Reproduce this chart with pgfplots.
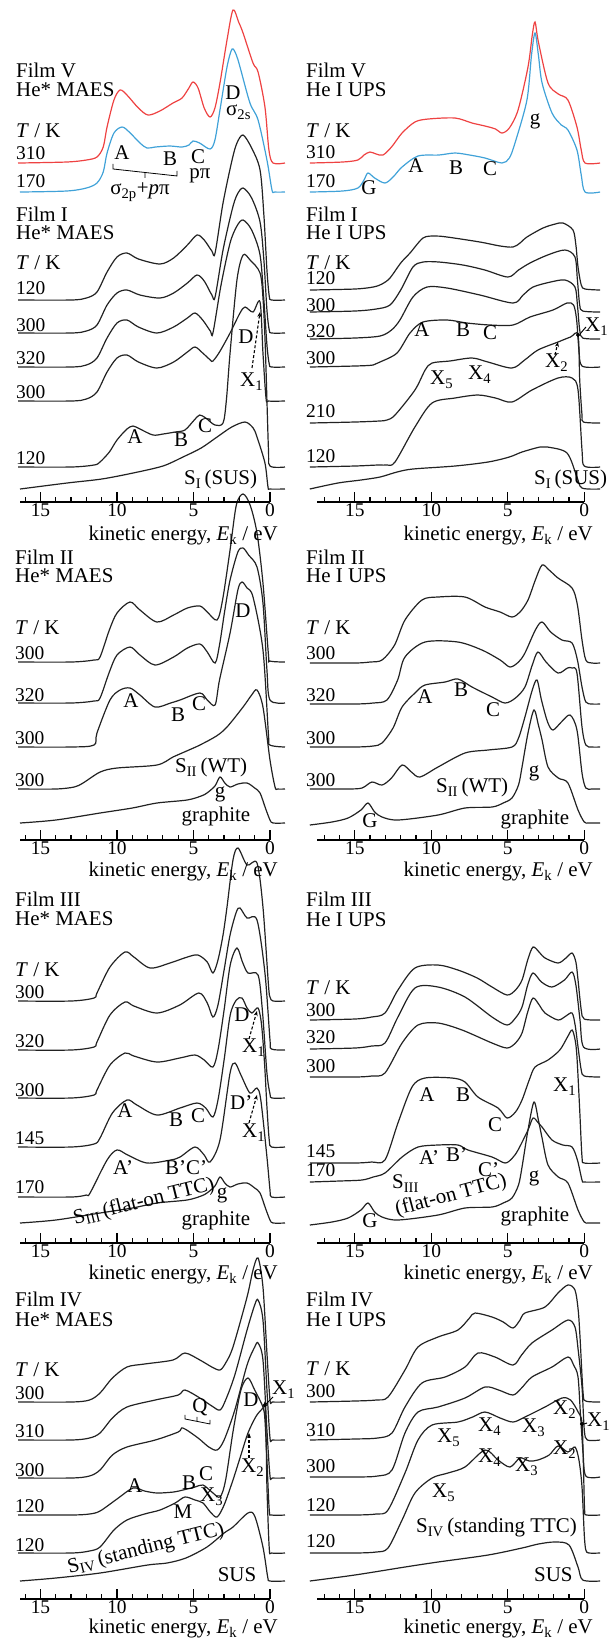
\documentclass[border=0pt]{standalone}
\usepackage{fontspec}
\setmainfont{Liberation Serif}
\usepackage{pgfplots}
\pgfplotsset{compat=1.18}
\usetikzlibrary{arrows.meta}
\definecolor{vred}{RGB}{238,66,66}
\definecolor{vblue}{RGB}{64,162,216}
\definecolor{crv}{RGB}{34,34,34}
\newcommand\lab{\fontsize{21}{23}\selectfont}
\newcommand\num{\fontsize{19.5}{21}\selectfont}
\newcommand\sub[1]{\textsubscript{#1}}
\newcommand\ek{kinetic energy, \textit{E}\sub{k} / eV}

\pgfplotsset{
  spc/.style={no markers, smooth, line width=1.2bp, color=crv},
  dot/.style={only marks, mark=*, mark size=1.8bp, black},
  bigL/.style={scale only axis, width=250bp, height=1643bp, xmin=0, xmax=16.34,
    x dir=reverse, ymin=0, ymax=1643, y dir=reverse, hide axis, clip=false,
    anchor=south west, at={(20bp,0bp)}},
  bigR/.style={bigL, width=267.3bp, xmax=17.47, at={(317bp,0bp)}},
  xax/.style={scale only axis, height=20bp, x dir=reverse, xmin=0, ymin=0, ymax=1,
    axis x line=bottom, axis y line=none, anchor=south west,
    axis line style={-, line width=1.6bp},
    xtick={0,5,10,15}, xtick align=inside,
    major tick length=10bp, minor tick length=5bp,
    every tick/.style={black, line width=1.2bp},
    xticklabel style={font=\num, inner sep=1.5bp},
    /pgf/number format/assume math mode=true},
  xaxL/.style={xax, width=250bp, xmax=16.34,
    minor xtick={1,2,3,4,6,7,8,9,11,12,13,14,16}},
  xaxR/.style={xax, width=267.3bp, xmax=17.47,
    minor xtick={1,2,3,4,6,7,8,9,11,12,13,14,16,17}},
}

\begin{document}
\begin{tikzpicture}
\useasboundingbox (0,0) rectangle (609bp,1643bp);

% ---------------- left column: He* MAES ----------------
\begin{axis}[bigL]
% Film V
\addplot[spc, vred] coordinates {(16.47,163) (13.3,162) (12.0,160) (11.31,157) (10.9,147) (10.65,127) (10.2,100) (9.8,90) (9.35,95) (8.6,108) (7.97,115) (7.2,111) (6.34,103) (5.75,98) (5.3,88) (5.03,82) (4.7,88) (4.3,108) (3.92,117) (3.6,108) (3.27,83) (2.81,40) (2.42,10) (2.05,22) (1.76,33) (1.11,63) (0.78,72) (0.33,107) (0.07,150) (-0.2,163) (-0.98,163)};
\addplot[spc, vblue] coordinates {(16.34,192) (13.3,191) (12.0,188) (11.31,183) (10.9,172) (10.65,153) (10.2,133) (9.67,127) (9.2,132) (8.5,143) (8.04,148) (7.5,147) (6.54,146) (5.75,147) (5.3,145) (5.03,141) (4.6,143) (3.92,149) (3.6,140) (3.27,110) (2.81,67) (2.48,49) (2.2,55) (1.96,67) (1.31,103) (0.78,120) (0.2,160) (-0.13,190) (-0.3,192) (-0.98,192)};
% Film I
\addplot[spc] coordinates {(16.47,300) (13,300) (12.0,298) (11.31,292) (10.65,272) (10.0,257) (9.35,253) (8.6,259) (7.19,264) (6.3,258) (5.4,245) (4.77,235) (4.3,240) (3.8,251) (3.59,253) (3.07,203) (2.48,160) (2.16,143) (1.76,135) (1.2,148) (0.65,170) (0.4,215) (0.2,270) (0.05,296) (-0.1,300) (-0.98,300)};
\addplot[spc] coordinates {(16.47,333) (13,333) (12.0,331) (11.31,325) (10.65,305) (10.0,293) (9.35,290) (8.5,295) (7.19,298) (6.3,293) (5.4,283) (4.77,275) (4.3,281) (3.8,295) (3.59,297) (3.07,250) (2.48,210) (2.16,195) (1.76,188) (1.2,198) (0.65,222) (0.4,260) (0.2,310) (0.05,330) (-0.1,333) (-0.98,333)};
\addplot[spc] coordinates {(16.47,367) (13,367) (12.0,365) (11.31,358) (10.65,338) (10.0,323) (9.35,320) (8.6,327) (7.39,333) (6.3,327) (5.4,318) (4.9,313) (4.4,320) (3.9,331) (3.73,333) (3.2,285) (2.61,243) (2.16,226) (1.76,220) (1.2,230) (0.65,255) (0.4,300) (0.2,345) (0.05,364) (-0.1,367) (-0.98,367)};
\addplot[spc] coordinates {(16.47,401) (13,401) (12.0,399) (11.31,392) (10.65,372) (10.0,358) (9.35,355) (8.6,362) (7.39,368) (6.3,362) (5.4,352) (4.9,347) (4.4,353) (3.9,360) (3.73,361) (3.3,352) (2.61,333) (1.96,313) (1.63,307) (1.11,312) (0.65,302) (0.46,353) (0.26,398) (0.1,401) (-0.98,401)};
\addplot[spc] coordinates {(16.47,467) (13,467) (11.5,465) (11.11,462) (10.5,452) (10.0,440) (9.35,429) (8.95,426) (8.5,429) (7.65,435) (6.99,434) (6.2,432) (5.56,430) (4.95,420) (4.6,415) (4.2,418) (3.6,425) (3.07,423) (2.85,400) (2.61,353) (2.16,280) (1.76,255) (1.3,260) (0.65,273) (0.45,300) (0.3,350) (0.1,450) (0,466) (-0.98,467)};
\addplot[spc] coordinates {(16.34,489) (13.27,483) (11,479) (8.95,473) (7,466) (5.69,457) (4.5,448) (3.46,437) (2.5,427) (1.63,422) (1.1,428) (0.85,437) (0.33,463) (0.13,487) (0,489) (-0.98,489)};
% Film II
\addplot[spc] coordinates {(16.47,662) (13,662) (11.5,660) (11.11,657) (10.5,630) (10.0,613) (9.15,602) (8.5,610) (7.39,622) (6.3,615) (5.4,608) (4.58,606) (4.1,612) (3.46,620) (3.1,600) (2.61,550) (2.2,505) (1.76,494) (1.3,505) (0.85,533) (0.46,583) (0.1,655) (0,661) (-0.98,662)};
\addplot[spc] coordinates {(16.47,703) (13,703) (11.5,701) (11.11,698) (10.5,672) (10.0,655) (9.15,647) (8.5,655) (7.52,665) (6.3,657) (5.4,648) (4.58,644) (4.1,652) (3.59,663) (3.3,645) (2.95,610) (2.61,580) (2.1,552) (1.76,548) (1.4,555) (0.85,567) (0.46,603) (0.2,670) (0,700) (-0.98,703)};
\addplot[spc] coordinates {(16.47,747) (13,747) (11.5,745) (11.31,733) (10.46,700) (9.8,690) (9.15,688) (8.5,695) (7.52,707) (6.5,703) (5.88,700) (4.58,693) (4.1,700) (3.59,705) (3.3,680) (2.61,633) (2.1,590) (1.83,582) (1.5,588) (1.11,597) (0.46,650) (0.1,735) (0,745) (-0.98,747)};
\addplot[spc] coordinates {(16.47,789) (14,789) (12.8,787) (12.22,783) (11.1,772) (10.0,768) (7.39,765) (6.34,757) (5.3,750) (4.58,745) (3.5,736) (2.81,727) (1.76,707) (1.2,695) (0.85,690) (0.46,707) (0,760) (-0.33,787) (-0.5,789) (-0.98,789)};
\addplot[spc] coordinates {(16.34,823) (14,820) (11.11,813) (9,808) (7.39,803) (5.42,800) (4.5,796) (4.12,793) (3.6,786) (3.27,777) (2.95,783) (2.61,787) (2.1,784) (1.5,783) (1.0,788) (0.65,793) (0.3,808) (0,820) (-0.2,823) (-0.98,823)};
% Film III
\addplot[spc] coordinates {(16.47,1001) (13,1001) (11.5,998) (11.31,993) (10.46,967) (9.48,952) (8.9,957) (7.84,968) (6.54,963) (5.4,957) (4.71,955) (4.1,962) (3.73,973) (3.4,960) (3.07,935) (2.81,907) (2.42,860) (2.09,848) (1.5,865) (0.85,863) (0.46,907) (0.1,985) (0,997) (-0.2,1001) (-0.98,1001)};
\addplot[spc] coordinates {(16.47,1050) (13,1050) (11.5,1047) (11.31,1042) (10.46,1015) (9.48,1002) (8.9,1006) (7.39,1013) (5.9,1005) (4.65,993) (4.1,1003) (3.73,1017) (3.4,1005) (3.0,970) (2.61,935) (2.2,912) (1.96,908) (1.5,918) (0.85,920) (0.33,973) (0,1040) (-0.1,1049) (-0.98,1050)};
\addplot[spc] coordinates {(16.47,1098) (13,1098) (11.5,1095) (11.31,1090) (10.46,1065) (9.48,1053) (8.9,1056) (7.39,1062) (5.9,1058) (4.9,1055) (4.3,1060) (3.73,1067) (3.4,1050) (3.0,1010) (2.6,965) (2.16,948) (1.8,962) (1.44,973) (0.78,975) (0.5,1010) (0.2,1073) (0,1094) (-0.13,1098) (-0.98,1098)};
\addplot[spc] coordinates {(16.47,1147) (13,1147) (11.5,1144) (11.11,1138) (10.3,1113) (9.35,1100) (8.7,1105) (7.39,1115) (5.88,1108) (4.77,1103) (4.2,1108) (3.73,1117) (3.4,1100) (3.0,1060) (2.6,1015) (2.2,1000) (1.83,998) (1.5,1008) (1.18,1013) (0.78,1008) (0.55,1025) (0.35,1065) (0.2,1107) (0.05,1140) (-0.1,1147) (-0.98,1147)};
\addplot[spc] coordinates {(16.47,1197) (13,1197) (12.0,1195) (11.76,1193) (10.65,1160) (10.0,1150) (9.3,1155) (8.04,1163) (6.5,1160) (5.88,1157) (4.9,1147) (4.3,1155) (3.92,1162) (3.27,1140) (2.61,1073) (2.29,1063) (1.9,1075) (1.31,1093) (0.85,1088) (0.6,1100) (0.2,1157) (0,1190) (-0.1,1197) (-0.98,1197)};
\addplot[spc] coordinates {(16.34,1223) (14,1220) (11.11,1213) (9,1208) (7.39,1203) (5.42,1200) (4.5,1196) (4.12,1193) (3.6,1186) (3.27,1177) (2.95,1183) (2.61,1187) (2.1,1184) (1.5,1183) (1.0,1188) (0.65,1193) (0.3,1208) (0,1220) (-0.2,1223) (-0.98,1223)};
% Film IV
\addplot[spc] coordinates {(16.47,1402) (13,1402) (11.8,1400) (11.11,1393) (10.3,1378) (9.35,1367) (8.2,1364) (6.34,1360) (5.56,1353) (4.58,1360) (3.8,1367) (3.27,1370) (2.9,1363) (2.42,1347) (1.5,1297) (1.11,1270) (0.78,1258) (0.46,1287) (0.2,1353) (0,1400) (-0.15,1402) (-0.98,1402)};
\addplot[spc] coordinates {(16.47,1440) (13,1440) (11.8,1438) (11.11,1433) (10.3,1418) (9.35,1407) (7.5,1400) (6.0,1395) (5.56,1390) (4.58,1398) (3.8,1406) (3.27,1410) (2.9,1400) (2.3,1375) (1.5,1330) (1.0,1305) (0.78,1300) (0.46,1320) (0.2,1390) (0,1438) (-0.15,1440) (-0.98,1440)};
\addplot[spc] coordinates {(16.47,1478) (13,1478) (11.8,1476) (11.11,1470) (10.3,1455) (9.35,1447) (7.5,1440) (6.0,1432) (5.69,1428) (4.7,1438) (4.0,1447) (3.46,1450) (3.0,1440) (2.3,1410) (1.5,1365) (1.0,1347) (0.78,1343) (0.46,1360) (0.2,1430) (0,1476) (-0.15,1478) (-0.98,1478)};
\addplot[spc] coordinates {(16.47,1515) (13,1515) (11.8,1514) (11.11,1511) (10.0,1499) (8.95,1488) (8.2,1491) (7.39,1493) (6.3,1492) (5.69,1490) (4.9,1487) (4.38,1485) (3.8,1492) (3.27,1497) (2.9,1480) (2.4,1430) (1.9,1390) (1.44,1378) (1.0,1390) (0.46,1407) (0.33,1420) (0.2,1460) (0.05,1510) (-0.1,1515) (-0.98,1515)};
\addplot[spc] coordinates {(16.47,1553) (13,1553) (11.8,1551) (11.11,1547) (10.2,1530) (9.35,1520) (8.2,1514) (7.19,1510) (6.2,1503) (5.56,1497) (4.9,1500) (4.38,1503) (3.9,1512) (3.46,1517) (3.0,1505) (2.42,1480) (1.9,1455) (1.44,1433) (0.9,1416) (0.46,1408) (0.33,1405) (0.25,1440) (0.2,1487) (0.05,1548) (-0.1,1553) (-0.98,1553)};
\addplot[spc] coordinates {(16.34,1581) (14,1578) (11.11,1573) (8,1565) (6.73,1563) (5.5,1558) (4.12,1547) (3.0,1533) (2.42,1527) (1.44,1513) (1.0,1516) (0.46,1547) (0.15,1577) (0,1581) (-0.98,1581)};
\addplot[dot] coordinates {(0.33,1405)};
\end{axis}

% ---------------- right column: He I UPS ----------------
\begin{axis}[bigR]
% Film V
\addplot[spc, vred] coordinates {(17.94,163) (15.8,162) (14.8,160) (14.4,155) (14.01,152) (13.6,154) (13.16,155) (12.6,147) (11.91,133) (11.07,122) (10.2,119) (8.45,118) (7.34,123) (6.49,126) (5.8,129) (5.38,133) (4.9,128) (4.33,110) (3.68,67) (3.4,35) (3.22,22) (3.0,42) (2.37,83) (1.7,94) (1.07,100) (0.48,127) (0.2,150) (-0.05,163) (-1.03,163)};
\addplot[spc, vblue] coordinates {(17.94,192) (15.8,191) (14.8,188) (14.4,180) (14.14,173) (13.7,178) (13.03,183) (12.5,177) (11.91,167) (10.87,156) (9.5,155) (8.45,153) (7.5,155) (6.49,158) (5.38,163) (4.9,158) (4.53,143) (3.75,100) (3.45,55) (3.22,33) (3.0,55) (2.76,83) (2.11,113) (1.5,125) (1.07,130) (0.48,150) (0.2,175) (-0.05,192) (-1.03,192)};
% Film I
\addplot[spc] coordinates {(17.94,290) (15,289) (13.8,287) (13.22,284) (12.70,278) (12.0,263) (11.39,253) (10.54,238) (9.8,236) (8.97,237) (6.82,242) (5.5,246) (4.66,247) (4.2,243) (3.75,237) (2.70,228) (1.9,224) (1.39,223) (0.74,230) (0.55,245) (0.41,267) (0.2,285) (-0.05,289) (-1.03,290)};
\addplot[spc] coordinates {(17.94,312) (15,311) (13.6,309) (12.70,305) (12.0,290) (11.20,267) (10.54,262) (9.5,262) (7.93,265) (6.5,270) (4.99,277) (4.3,270) (3.55,263) (2.4,255) (1.26,250) (0.61,257) (0.45,280) (0.3,305) (0.1,311) (-1.03,312)};
\addplot[spc] coordinates {(17.94,339) (15,338) (13.35,336) (12.6,330) (12.05,320) (11.20,297) (10.28,287) (8.97,288) (6.82,295) (4.66,303) (4.0,295) (3.35,287) (2.2,282) (1.26,280) (0.61,287) (0.45,305) (0.3,330) (0.1,338) (-1.03,339)};
\addplot[spc] coordinates {(17.94,367) (15,366) (13.8,365) (13.35,362) (12.24,353) (11.39,333) (10.54,322) (8.97,320) (7.67,323) (6.16,325) (4.66,325) (3.55,317) (2.05,310) (1.13,303) (0.7,305) (0.5,320) (0.35,350) (0.15,366) (-1.03,367)};
\addplot[spc] coordinates {(17.94,423) (15,422) (13.4,421) (12.9,420) (12.37,415) (11.07,390) (10.4,370) (9.95,363) (8.8,361) (7.34,358) (6.3,362) (4.73,368) (3.9,360) (3.03,350) (1.72,342) (0.9,337) (0.41,335) (0.3,380) (0.15,415) (0.05,422) (-1.03,423)};
\addplot[spc] coordinates {(17.94,467) (15,466) (13.5,465) (12.9,465) (12.37,462) (11.07,427) (9.95,403) (8.45,398) (6.95,395) (5.8,398) (4.73,402) (3.42,390) (1.72,378) (0.8,378) (0.41,390) (0.15,450) (0,466) (-1.03,467)};
\addplot[spc] coordinates {(17.94,489) (16.1,483) (14.6,480) (13.35,477) (12.24,472) (11.2,469) (8.45,466) (6.29,462) (4.9,457) (4.07,452) (2.9,447) (2.4,447) (1.13,453) (0.48,477) (0.15,488) (-1.03,489)};
\addplot[dot] coordinates {(0.41,335)};
% Film II
\addplot[spc] coordinates {(17.94,663) (15,663) (14,662) (13.22,660) (12.4,645) (11.72,620) (10.61,600) (9.56,597) (7.80,597) (6.49,607) (5.5,612) (4.73,617) (4.2,612) (3.68,600) (3.2,580) (2.76,565) (2.3,570) (1.72,578) (0.8,588) (0.45,605) (0.15,640) (-0.1,660) (-0.5,663) (-1.03,663)};
\addplot[spc] coordinates {(17.94,704) (15,704) (13.8,703) (12.9,700) (12.2,680) (11.72,657) (10.41,642) (8.26,642) (6.69,650) (5.5,660) (4.86,667) (4.3,662) (3.88,653) (3.2,630) (2.76,622) (2.2,632) (1.46,640) (0.8,643) (0.45,660) (0.15,687) (-0.1,702) (-0.5,704) (-1.03,704)};
\addplot[spc] coordinates {(17.94,747) (15,747) (13.8,746) (13.22,743) (12.5,728) (11.91,707) (11.0,692) (10.41,685) (9.10,682) (8.26,679) (7.34,687) (6.03,697) (5.18,703) (4.5,698) (3.88,687) (3.4,665) (3.03,652) (2.5,662) (1.72,673) (1.1,668) (0.8,668) (0.48,673) (0.15,727) (-0.1,745) (-0.5,747) (-1.03,747)};
\addplot[spc] coordinates {(17.94,789) (15.5,789) (14.53,788) (13.88,782) (13.22,785) (12.6,778) (11.91,765) (11.3,772) (10.74,777) (9.56,767) (7.80,753) (6.29,750) (4.73,747) (4.3,738) (3.88,717) (3.4,690) (3.09,680) (2.8,700) (2.4,722) (2.05,730) (1.5,722) (0.93,715) (0.48,730) (0.15,773) (-0.1,788) (-0.5,789) (-1.03,789)};
\addplot[spc] coordinates {(17.94,825) (16.5,822) (15.44,818) (14.6,810) (14.14,803) (13.7,812) (13.22,817) (12.18,820) (9.56,815) (7.80,808) (6.03,807) (5.3,803) (4.73,798) (4.3,785) (4.07,767) (3.68,733) (3.29,710) (3.0,725) (2.76,740) (2.37,767) (1.7,778) (1.07,783) (0.41,810) (0,822) (-0.3,823) (-1.03,823)};
% Film III
\addplot[spc] coordinates {(17.94,1020) (15,1019) (13.9,1017) (13.03,1013) (12.18,990) (11.07,968) (9.56,965) (8.26,970) (7.0,978) (6.03,987) (5.05,995) (4.5,990) (4.07,980) (3.7,960) (3.35,947) (2.9,953) (2.57,958) (1.72,963) (1.2,958) (0.80,953) (0.55,962) (0.41,980) (0.2,1010) (0,1019) (-1.03,1020)};
\addplot[spc] coordinates {(17.94,1049) (15,1048) (13.9,1046) (13.03,1043) (12.18,1017) (11.07,988) (9.56,987) (7.80,997) (6.03,1017) (5.05,1025) (4.5,1018) (4.07,1007) (3.7,985) (3.35,973) (2.8,982) (2.11,987) (1.3,980) (0.80,972) (0.55,985) (0.28,1020) (0.05,1047) (-1.03,1049)};
\addplot[spc] coordinates {(17.94,1077) (15,1077) (13.9,1076) (13.03,1073) (11.91,1043) (10.87,1025) (9.56,1023) (7.99,1030) (6.03,1043) (5.05,1048) (4.5,1043) (4.07,1033) (3.7,1012) (3.35,998) (2.9,1006) (2.57,1013) (1.72,1020) (1.2,1016) (0.80,1013) (0.6,1025) (0.41,1047) (0.2,1070) (0,1076) (-1.03,1077)};
\addplot[spc] coordinates {(17.94,1163) (15,1163) (13.9,1162) (13.03,1160) (12.18,1123) (11.26,1087) (10.41,1078) (8.65,1078) (7.80,1082) (6.95,1097) (5.64,1108) (5.05,1118) (4.5,1112) (4.07,1100) (3.6,1080) (3.22,1067) (2.37,1060) (1.6,1050) (1.1,1037) (0.80,1030) (0.6,1040) (0.48,1057) (0.3,1110) (0.15,1157) (0,1163) (-1.03,1163)};
\addplot[spc] coordinates {(17.94,1182) (16,1181) (14.53,1180) (13.8,1177) (13.03,1173) (11.91,1157) (10.87,1147) (9.56,1145) (8.26,1145) (7.6,1150) (6.03,1157) (5.18,1163) (4.7,1158) (4.33,1150) (3.68,1130) (3.35,1118) (3.0,1123) (2.76,1127) (2.11,1140) (1.4,1145) (0.80,1147) (0.45,1160) (0.15,1180) (0,1182) (-1.03,1182)};
\addplot[spc] coordinates {(17.94,1225) (16.5,1222) (15.44,1218) (14.6,1210) (14.14,1203) (13.7,1212) (13.22,1217) (12.18,1220) (9.56,1215) (7.80,1208) (6.03,1207) (5.3,1203) (4.73,1198) (4.3,1185) (4.07,1167) (3.68,1130) (3.29,1102) (3.0,1120) (2.76,1138) (2.37,1165) (1.7,1177) (1.07,1183) (0.41,1210) (0,1222) (-0.3,1223) (-1.03,1223)};
% Film IV
\addplot[spc] coordinates {(17.94,1402) (15,1401) (13.6,1400) (12.83,1397) (11.72,1370) (10.87,1347) (9.56,1337) (8.26,1330) (7.5,1318) (7.14,1313) (6.03,1317) (5.3,1322) (4.66,1328) (4.2,1320) (3.88,1313) (2.57,1307) (1.72,1293) (1.07,1285) (0.61,1290) (0.4,1310) (0.28,1337) (0.08,1393) (-0.1,1401) (-1.03,1402)};
\addplot[spc] coordinates {(17.94,1440) (15,1439) (13.5,1438) (12.57,1433) (11.72,1407) (10.61,1383) (9.10,1377) (7.80,1367) (6.95,1353) (5.84,1357) (4.66,1365) (4.1,1355) (3.42,1343) (2.11,1330) (1.07,1320) (0.61,1327) (0.4,1350) (0.15,1387) (0,1430) (-0.2,1440) (-1.03,1440)};
\addplot[spc] coordinates {(17.94,1477) (15,1477) (13.5,1476) (12.57,1470) (11.72,1433) (10.87,1412) (9.56,1407) (7.80,1398) (6.49,1387) (5.6,1390) (4.66,1395) (4.1,1388) (3.42,1377) (2.11,1367) (1.07,1357) (0.7,1365) (0.41,1377) (0.25,1415) (0.08,1453) (-0.1,1476) (-1.03,1477)};
\addplot[spc] coordinates {(17.94,1515) (15,1515) (13.6,1514) (12.83,1510) (11.72,1473) (10.87,1440) (9.95,1425) (8.26,1422) (7.3,1417) (6.49,1412) (5.5,1418) (4.66,1422) (3.88,1417) (2.57,1407) (1.46,1398) (0.9,1400) (0.4,1412) (0.15,1423) (0.05,1470) (-0.02,1510) (-0.15,1515) (-1.03,1515)};
\addplot[spc] coordinates {(17.94,1553) (15,1553) (13.6,1552) (12.83,1548) (11.91,1520) (11.07,1493) (9.95,1478) (8.91,1473) (7.80,1467) (6.49,1450) (5.64,1460) (4.86,1467) (4.20,1458) (3.6,1461) (3.03,1460) (2.3,1455) (1.72,1446) (1.07,1452) (0.61,1447) (0.35,1460) (0.15,1487) (0.0,1535) (-0.1,1550) (-0.3,1553) (-1.03,1553)};
\addplot[spc] coordinates {(17.94,1581) (15,1575) (11.72,1567) (9.56,1562) (6.29,1555) (4.07,1548) (3.0,1544) (1.92,1542) (1.0,1545) (0.41,1567) (0.1,1580) (-1.03,1581)};
\addplot[dot] coordinates {(0.15,1424)};
\end{axis}

% ---------------- energy axes ----------------
\begin{axis}[xaxL, at={(20bp,1141bp)}]\addplot[draw=none] coordinates {(1,0.5)};\end{axis}
\begin{axis}[xaxL, at={(20bp,803bp)}]\addplot[draw=none] coordinates {(1,0.5)};\end{axis}
\begin{axis}[xaxL, at={(20bp,400bp)}]\addplot[draw=none] coordinates {(1,0.5)};\end{axis}
\begin{axis}[xaxL, at={(20bp,44bp)}]\addplot[draw=none] coordinates {(1,0.5)};\end{axis}
\begin{axis}[xaxR, at={(317bp,1141bp)}]\addplot[draw=none] coordinates {(1,0.5)};\end{axis}
\begin{axis}[xaxR, at={(317bp,803bp)}]\addplot[draw=none] coordinates {(1,0.5)};\end{axis}
\begin{axis}[xaxR, at={(317bp,400bp)}]\addplot[draw=none] coordinates {(1,0.5)};\end{axis}
\begin{axis}[xaxR, at={(317bp,44bp)}]\addplot[draw=none] coordinates {(1,0.5)};\end{axis}

% ---------------- text (pixel positions, y downwards) ----------------
\begin{scope}[x=1bp, y=-1bp, yshift=1643bp, every node/.style={inner sep=0pt, font=\lab}]
\tikzset{arr/.style={-{Stealth[length=5bp,width=4bp]}, line width=1.1bp}}
% axis labels
\foreach \yy in {541,877,1280,1634} {
  \node[anchor=base east] at (278,\yy) {\ek};
  \node[anchor=base east] at (593,\yy) {\ek};
}
% left: Film V
\node[anchor=base west] at (16,78) {Film V};
\node[anchor=base west] at (16,97) {He* MAES};
\node[anchor=base west] at (16,138) {\textit{T} / K};
\node[anchor=base west, font=\num] at (16,160) {310};
\node[anchor=base west, font=\num] at (16,188) {170};
\node[anchor=base] at (122,160) {A};
\node[anchor=base] at (170,166) {B};
\node[anchor=base] at (198,164) {C};
\node[anchor=base] at (200,179) {pπ};
\draw[line width=0.8bp] (113,164) -- (113,169) -- (177,176) -- (177,171) (145,173) -- (145,178);
\node[anchor=base] at (140,195) {σ\sub{2p}+\textit{p}π};
\node[anchor=base] at (233,100) {D};
\node[anchor=base west] at (226,116) {σ\sub{2s}};
% left: Film I
\node[anchor=base west] at (16,222) {Film I};
\node[anchor=base west] at (16,240) {He* MAES};
\node[anchor=base west] at (16,270) {\textit{T} / K};
\node[anchor=base west, font=\num] at (16,295) {120};
\node[anchor=base west, font=\num] at (16,332) {300};
\node[anchor=base west, font=\num] at (16,365) {320};
\node[anchor=base west, font=\num] at (16,399) {300};
\node[anchor=base west, font=\num] at (16,465) {120};
\node[anchor=base] at (135,444) {A};
\node[anchor=base] at (181,447) {B};
\node[anchor=base] at (205,433) {C};
\node[anchor=base] at (246,344) {D};
\node[anchor=base west] at (240,387) {X\sub{1}};
\draw[arr, densely dashed] (252,368) -- (260,312);
\node[anchor=base west] at (184,485) {S\sub{I}\,(SUS)};
% left: Film II
\node[anchor=base west] at (15,565) {Film II};
\node[anchor=base west] at (15,583) {He* MAES};
\node[anchor=base west] at (15,635) {\textit{T} / K};
\node[anchor=base west, font=\num] at (15,660) {300};
\node[anchor=base west, font=\num] at (15,702) {320};
\node[anchor=base west, font=\num] at (15,745) {300};
\node[anchor=base west, font=\num] at (15,787) {300};
\node[anchor=base] at (243,618) {D};
\node[anchor=base] at (131,708) {A};
\node[anchor=base] at (178,722) {B};
\node[anchor=base] at (199,711) {C};
\node[anchor=base west] at (175,773) {S\sub{II}\,(WT)};
\node[anchor=base] at (220,798) {g};
\node[anchor=base] at (216,822) {graphite};
% left: Film III
\node[anchor=base west] at (15,907) {Film III};
\node[anchor=base west] at (15,926) {He* MAES};
\node[anchor=base west] at (15,977) {\textit{T} / K};
\node[anchor=base west, font=\num] at (15,999) {300};
\node[anchor=base west, font=\num] at (15,1048) {320};
\node[anchor=base west, font=\num] at (15,1097) {300};
\node[anchor=base west, font=\num] at (15,1145) {145};
\node[anchor=base west, font=\num] at (15,1194) {170};
\node[anchor=base] at (242,1022) {D};
\node[anchor=base west] at (242,1053) {X\sub{1}};
\draw[arr, densely dashed] (249,1039) -- (257,1011);
\node[anchor=base west] at (230,1110) {D’};
\node[anchor=base west] at (242,1138) {X\sub{1}};
\draw[arr, densely dashed] (249,1123) -- (257,1095);
\node[anchor=base] at (125,1118) {A};
\node[anchor=base] at (176,1127) {B};
\node[anchor=base] at (198,1123) {C};
\node[anchor=base west] at (113,1175) {A’};
\node[anchor=base west] at (165,1175) {B’C’};
\node[rotate=14] at (144,1202) {S\sub{III}\,(flat-on TTC)};
\node[anchor=base] at (222,1199) {g};
\node[anchor=base] at (216,1226) {graphite};
% left: Film IV
\node[anchor=base west] at (15,1307) {Film IV};
\node[anchor=base west] at (15,1327) {He* MAES};
\node[anchor=base west] at (15,1377) {\textit{T} / K};
\node[anchor=base west, font=\num] at (15,1400) {300};
\node[anchor=base west, font=\num] at (15,1438) {310};
\node[anchor=base west, font=\num] at (15,1477) {300};
\node[anchor=base west, font=\num] at (15,1513) {120};
\node[anchor=base west, font=\num] at (15,1552) {120};
\node[anchor=base] at (200,1413) {Q};
\draw[line width=0.8bp] (185,1415) -- (185,1419) -- (210,1424) -- (210,1420) (197,1421) -- (197,1417);
\node[anchor=base] at (251,1407) {D};
\node[anchor=base west] at (272,1395) {X\sub{1}};
\draw[line width=1bp] (273,1397) -- (266,1404);
\node[anchor=base west] at (241,1473) {X\sub{2}};
\draw[arr, densely dashed] (249,1458) -- (249,1433);
\node[anchor=base] at (135,1493) {A};
\node[anchor=base] at (189,1490) {B};
\node[anchor=base] at (206,1481) {C};
\node[anchor=base west] at (200,1502) {X\sub{3}};
\node[anchor=base] at (183,1519) {M};
\node[rotate=14] at (146,1549) {S\sub{IV}\,(standing TTC)};
\node[anchor=base] at (237,1582) {SUS};
% right: Film V
\node[anchor=base west] at (306,78) {Film V};
\node[anchor=base west] at (306,97) {He I UPS};
\node[anchor=base west] at (306,138) {\textit{T} / K};
\node[anchor=base west, font=\num] at (306,159) {310};
\node[anchor=base west, font=\num] at (306,188) {170};
\node[anchor=base] at (416,173) {A};
\node[anchor=base] at (456,175) {B};
\node[anchor=base] at (490,176) {C};
\node[anchor=base] at (369,195) {G};
\node[anchor=base] at (535,125) {g};
% right: Film I
\node[anchor=base west] at (306,222) {Film I};
\node[anchor=base west] at (306,240) {He I UPS};
\node[anchor=base west] at (306,270) {\textit{T} / K};
\node[anchor=base west, font=\num] at (306,285) {120};
\node[anchor=base west, font=\num] at (306,312) {300};
\node[anchor=base west, font=\num] at (306,338) {320};
\node[anchor=base west, font=\num] at (306,365) {300};
\node[anchor=base west, font=\num] at (306,418) {210};
\node[anchor=base west, font=\num] at (306,463) {120};
\node[anchor=base] at (422,337) {A};
\node[anchor=base] at (463,337) {B};
\node[anchor=base] at (490,340) {C};
\node[anchor=base west] at (585,332) {X\sub{1}};
\draw[line width=1bp] (586,327) -- (580,334);
\node[anchor=base west] at (545,368) {X\sub{2}};
\draw[arr, densely dashed] (555,355) -- (558,342);
\node[anchor=base west] at (430,385) {X\sub{5}};
\node[anchor=base west] at (468,380) {X\sub{4}};
\node[anchor=base west] at (534,485) {S\sub{I}\,(SUS)};
% right: Film II
\node[anchor=base west] at (306,565) {Film II};
\node[anchor=base west] at (306,583) {He I UPS};
\node[anchor=base west] at (306,635) {\textit{T} / K};
\node[anchor=base west, font=\num] at (306,660) {300};
\node[anchor=base west, font=\num] at (306,702) {320};
\node[anchor=base west, font=\num] at (306,745) {300};
\node[anchor=base west, font=\num] at (306,787) {300};
\node[anchor=base] at (425,704) {A};
\node[anchor=base] at (461,697) {B};
\node[anchor=base] at (493,717) {C};
\node[anchor=base west] at (436,793) {S\sub{II}\,(WT)};
\node[anchor=base] at (534,777) {g};
\node[anchor=base] at (535,825) {graphite};
\node[anchor=base] at (370,828) {G};
% right: Film III
\node[anchor=base west] at (306,907) {Film III};
\node[anchor=base west] at (306,927) {He I UPS};
\node[anchor=base west] at (306,995) {\textit{T} / K};
\node[anchor=base west, font=\num] at (306,1017) {300};
\node[anchor=base west, font=\num] at (306,1044) {320};
\node[anchor=base west, font=\num] at (306,1073) {300};
\node[anchor=base west, font=\num] at (306,1158) {145};
\node[anchor=base west, font=\num] at (306,1177) {170};
\node[anchor=base west] at (553,1092) {X\sub{1}};
\node[anchor=base] at (427,1102) {A};
\node[anchor=base] at (463,1102) {B};
\node[anchor=base] at (495,1132) {C};
\node[anchor=base west] at (419,1165) {A’};
\node[anchor=base west] at (446,1162) {B’};
\node[anchor=base west] at (478,1177) {C’};
\node[anchor=base] at (534,1182) {g};
\node[anchor=base west] at (392,1189) {S\sub{III}};
\node[rotate=15] at (451,1196) {(flat-on TTC)};
\node[anchor=base] at (535,1222) {graphite};
\node[anchor=base] at (370,1228) {G};
% right: Film IV
\node[anchor=base west] at (306,1307) {Film IV};
\node[anchor=base west] at (306,1327) {He I UPS};
\node[anchor=base west] at (306,1376) {\textit{T} / K};
\node[anchor=base west, font=\num] at (306,1398) {300};
\node[anchor=base west, font=\num] at (306,1437) {310};
\node[anchor=base west, font=\num] at (306,1473) {300};
\node[anchor=base west, font=\num] at (306,1512) {120};
\node[anchor=base west, font=\num] at (306,1548) {120};
\node[anchor=base west] at (553,1415) {X\sub{2}};
\node[anchor=base west] at (587,1427) {X\sub{1}};
\draw[line width=1bp] (587,1423) -- (584,1424);
\node[anchor=base west] at (478,1432) {X\sub{4}};
\node[anchor=base west] at (522,1433) {X\sub{3}};
\node[anchor=base west] at (437,1443) {X\sub{5}};
\node[anchor=base west] at (478,1463) {X\sub{4}};
\node[anchor=base west] at (515,1472) {X\sub{3}};
\node[anchor=base west] at (553,1455) {X\sub{2}};
\node[anchor=base west] at (432,1498) {X\sub{5}};
\node[anchor=base west] at (416,1533) {S\sub{IV}\,(standing TTC)};
\node[anchor=base west] at (534,1582) {SUS};
\end{scope}
\end{tikzpicture}
\end{document}
